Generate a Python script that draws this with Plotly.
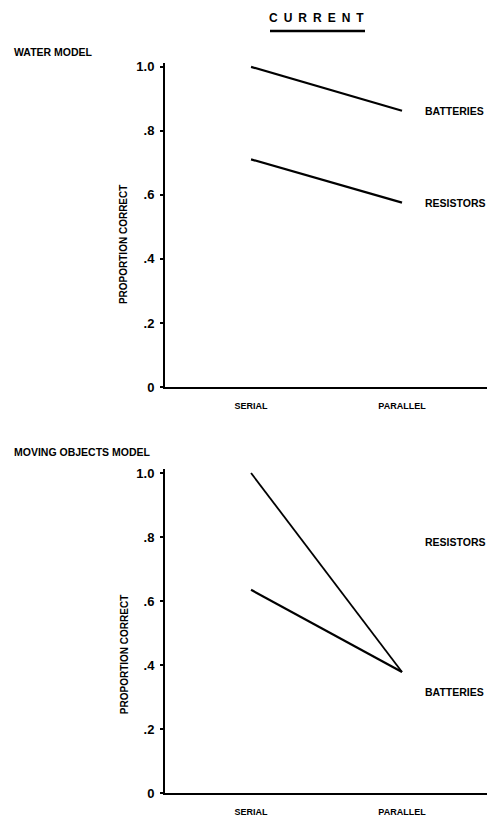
import plotly.graph_objects as go

conditions = ["SERIAL", "PARALLEL"]
x_pos = [0, 1]

# Water model
water_batteries = [1.0, 0.863]
water_resistors = [0.711, 0.576]
# Moving objects model
moving_line_a = [1.0, 0.378]
moving_line_b = [0.635, 0.378]

# label positions (value scale)
water_labels = [("BATTERIES", 0.863), ("RESISTORS", 0.576)]
moving_labels = [("RESISTORS", 0.784), ("BATTERIES", 0.316)]

y_ticks = [0, 0.2, 0.4, 0.6, 0.8, 1.0]
y_ticktext = ["0", ".2", ".4", ".6", ".8", "1.0"]

FONT = "Liberation Sans, Arial"
line_style = dict(color="black", width=2.2)

fig = go.Figure()
fig.add_trace(go.Scatter(x=x_pos, y=water_batteries, mode="lines", line=line_style,
                         xaxis="x", yaxis="y", showlegend=False))
fig.add_trace(go.Scatter(x=x_pos, y=water_resistors, mode="lines", line=line_style,
                         xaxis="x", yaxis="y", showlegend=False))
fig.add_trace(go.Scatter(x=x_pos, y=moving_line_a, mode="lines",
                         line=dict(color="black", width=1.8),
                         xaxis="x2", yaxis="y2", showlegend=False))
fig.add_trace(go.Scatter(x=x_pos, y=moving_line_b, mode="lines", line=line_style,
                         xaxis="x2", yaxis="y2", showlegend=False))

xaxis_common = dict(range=[-0.570, 1.563], tickvals=x_pos, ticktext=conditions,
                    showline=True, linecolor="black", linewidth=2, showgrid=False,
                    zeroline=False, ticks="", ticklabelstandoff=9,
                    tickfont=dict(family=FONT, size=9, color="black", weight="bold"))
yaxis_common = dict(range=[0, 1.012], tickvals=y_ticks, ticktext=y_ticktext,
                    showline=True, linecolor="black", linewidth=2, showgrid=False,
                    zeroline=False, ticks="outside", ticklen=3, tickwidth=1.5,
                    tickcolor="black", ticklabelstandoff=3,
                    tickfont=dict(family=FONT, size=13, color="black", weight="bold"))

label_font = dict(family=FONT, size=10.5, color="black", weight="bold")
annotations = []
for text, val in water_labels:
    annotations.append(dict(x=1.139, y=val, xref="x", yref="y", text=text,
                            xanchor="left", yanchor="middle", showarrow=False,
                            font=label_font))
for text, val in moving_labels:
    annotations.append(dict(x=1.139, y=val, xref="x2", yref="y2", text=text,
                            xanchor="left", yanchor="middle", showarrow=False,
                            font=label_font))

annotations += [
    dict(x=0.469, y=1.0616, xref="paper", yref="paper",
         text="\u2002".join("CURRENT"),
         showarrow=False, xanchor="center", yanchor="middle",
         font=dict(family=FONT, size=12, color="black", weight="bold")),
    dict(x=-0.475, y=1.0151, xref="paper", yref="paper", text="WATER MODEL",
         showarrow=False, xanchor="left", yanchor="middle",
         font=dict(family=FONT, size=10.5, color="black", weight="bold")),
    dict(x=-0.475, y=0.4671, xref="paper", yref="paper", text="MOVING OBJECTS MODEL",
         showarrow=False, xanchor="left", yanchor="middle",
         font=dict(family=FONT, size=10.5, color="black", weight="bold")),
    dict(x=-0.127, y=0.7507, xref="paper", yref="paper", text="PROPORTION CORRECT",
         showarrow=False, textangle=-90, xanchor="center", yanchor="middle",
         font=dict(family=FONT, size=10, color="black", weight="bold")),
    dict(x=-0.127, y=0.189, xref="paper", yref="paper", text="PROPORTION CORRECT",
         showarrow=False, textangle=-90, xanchor="center", yanchor="middle",
         font=dict(family=FONT, size=10, color="black", weight="bold")),
]

fig.update_layout(
    width=487, height=824,
    margin=dict(l=165, r=0, t=63, b=31),
    paper_bgcolor="white", plot_bgcolor="white",
    xaxis=dict(domain=[0, 1], anchor="y", **xaxis_common),
    yaxis=dict(domain=[0.5562, 1.0], anchor="x", **yaxis_common),
    xaxis2=dict(domain=[0, 1], anchor="y2", **xaxis_common),
    yaxis2=dict(domain=[0, 0.4436], anchor="x2", **yaxis_common),
    annotations=annotations,
    shapes=[dict(type="line", xref="paper", yref="paper",
                 x0=(270 - 165) / 322, x1=(365 - 165) / 322,
                 y0=(793 - 31) / 730, y1=(793 - 31) / 730,
                 line=dict(color="black", width=2.5))],
)

fig.write_html(
    "out.html",
    config={"displayModeBar": False},
    post_script="document.body.style.margin='0';document.body.style.overflow='hidden';",
)
